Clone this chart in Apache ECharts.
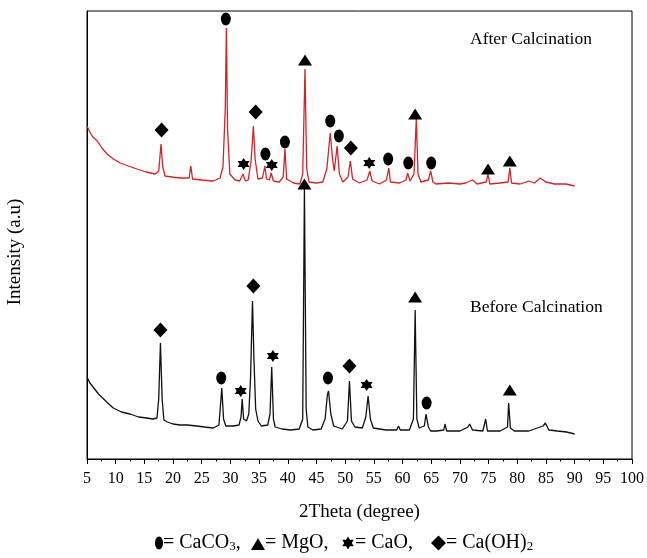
<!DOCTYPE html>
<html>
<head>
<meta charset="utf-8">
<script src="https://cdn.jsdelivr.net/npm/echarts@6/dist/echarts.min.js"></script>
<style>
html,body{margin:0;padding:0;background:#fff;}
#xrd{width:647px;height:558px;}
</style>
</head>
<body>
<div id="xrd"></div>
<script>
//before calcination (black), [2theta, intensity a.u.]
var before_xrd = [
 [5.0,82],[5.5,76],[6.2,71],[7.0,65],[7.9,60],[8.8,55],[9.6,51],[11.0,47],[12.5,45],[14.0,42],[15.4,41],[16.5,40],
 [17.2,41],[17.5,60],[17.8,116],[18.1,60],[18.4,39],[19.0,37],[20.0,35],[21.2,34],[22.5,34],[24.1,33],[25.5,32],
 [27.0,31],[28.0,34],[28.5,71],[28.8,40],[29.2,33],[30.5,33],[31.5,34],[31.85,42],[32.05,60],[32.3,40],[32.8,38],
 [33.2,45],[33.5,80],[33.85,158],[34.1,100],[34.4,50],[34.8,38],[35.4,33],[36.5,34],[36.9,45],[37.2,92],[37.5,40],
 [37.8,32],[39.0,30],[40.5,29],[42.0,30],[42.6,40],[42.9,272],[43.2,50],[43.5,32],[44.4,29],[45.8,30],[46.5,40],
 [46.9,64],[47.1,68],[47.5,45],[48.0,33],[49.5,30],[50.4,38],[50.75,78],[51.1,38],[51.7,32],[53.0,31],[53.6,42],
 [54.0,63],[54.4,40],[54.9,31],[57.1,29],[59.0,29],[59.3,33],[59.6,29],[61.2,29],[61.9,40],[62.2,149],[62.5,40],
 [62.9,31],[63.8,33],[64.1,45],[64.5,32],[64.9,28],[66.0,28],[67.2,29],[67.4,35],[67.7,28],[70.0,28],[71.4,32],
 [71.7,35],[72.2,29],[74.0,28],[74.5,40],[74.8,28],[77.0,28],[78.3,32],[78.5,56],[78.8,31],[79.5,28],[82.0,28],
 [84.5,33],[84.9,36],[85.5,29],[87.0,28],[88.6,27],[90.0,25]
];

//after calcination (red), shifted up
var after_xrd = [
 [5.0,333],[5.5,327],[6.0,322],[6.8,318],[7.6,311],[8.5,305],[9.6,300],[10.8,296],[12.2,293],[13.7,290],[15.3,287],
 [16.9,285],[17.5,288],[17.9,315],[18.2,292],[18.6,283],[19.8,282],[21.2,281],[22.8,281],[23.1,293],[23.4,280],
 [25.0,279],[27.0,278],[28.2,281],[28.7,292],[29.1,350],[29.3,431],[29.5,330],[29.9,285],[30.8,279],[31.6,278],
 [32.2,285],[32.6,278],[33.1,279],[33.6,298],[34.0,333],[34.3,300],[34.8,280],[35.6,281],[36.0,293],[36.3,280],
 [36.8,279],[37.1,286],[37.5,278],[38.5,277],[39.2,282],[39.5,310],[39.8,280],[41.0,276],[42.1,275],[42.6,285],
 [43.0,390],[43.3,290],[43.7,277],[45.0,276],[46.1,277],[46.8,290],[47.4,326],[47.8,300],[48.1,288],[48.6,313],
 [49.0,285],[49.6,277],[50.5,282],[50.9,298],[51.3,280],[52.5,276],[53.8,279],[54.3,288],[54.7,278],[56.0,275],
 [57.2,279],[57.6,291],[57.9,277],[59.5,276],[60.6,279],[60.9,286],[61.3,278],[62.0,285],[62.4,340],[62.7,285],
 [63.2,277],[64.5,279],[64.9,288],[65.3,277],[65.8,275],[68.0,276],[70.0,275],[71.0,276],[72.2,279],[73.0,275],
 [74.6,277],[74.9,285],[75.2,275],[77.0,276],[78.4,277],[78.7,291],[79.0,276],[80.5,275],[82.0,278],[83.0,276],
 [84.0,281],[85.0,277],[86.5,275],[88.5,275],[90.0,273]
];

//phase marks above the peaks
var caco3_marks = [[29.2,440],[36.1,305],[39.5,317],[47.4,338],[48.9,323],[57.5,300],[61.0,296],[65.0,296],[28.4,81],[47.0,81],[64.2,56]];
var mgo_marks   = [[43.0,399],[62.2,345],[74.9,290],[78.7,298],[42.9,275],[62.2,162],[78.7,69]];
var cao_marks   = [[32.3,295],[37.2,294],[54.2,296],[31.8,68],[37.4,103],[53.75,74]];
var caoh_marks  = [[18.0,329],[34.4,347],[51.0,311],[17.8,129],[34.0,173],[50.75,93]];

var star6 = 'path://M10 0L12.89 5L18.66 5L15.77 10L18.66 15L12.89 15L10 20L7.11 15L1.34 15L4.23 10L1.34 5L7.11 5Z';
var serif = 'Liberation Serif';
var legFont = '20px "Liberation Serif"';
var subRich = {sub:{fontFamily:serif,fontSize:13,verticalAlign:'bottom',lineHeight:16}};

var myChart = echarts.init(document.getElementById('xrd'));
var option = {
  animation:false,
  backgroundColor:'#fff',
  grid:{
       left:87,
       right:13,
       top:11,
       bottom:99,
       show:true,
       borderColor:'#000',
       borderWidth:1
  },
  xAxis:{
         type:'value',
         min:5,
         max:100,
         interval:5,
         name:'2Theta (degree)',
         nameLocation:'middle',
         nameGap:44,
         nameTextStyle:{color:'#000',fontFamily:serif,fontSize:19},
         axisLine:{lineStyle:{color:'#000',width:1}},
         axisTick:{show:true,inside:false,length:5,lineStyle:{color:'#000'}},
         minorTick:{show:true,splitNumber:2,length:2.5,lineStyle:{color:'#000'}},
         splitLine:{show:false},
         axisLabel:{color:'#000',fontFamily:serif,fontSize:16,margin:12}
  },
  yAxis:{
         type:'value',
         min:0,
         max:448,
         axisLine:{show:true,lineStyle:{color:'#000',width:1}},
         axisTick:{show:false},
         axisLabel:{show:false},
         splitLine:{show:false}
  },
  graphic:[
    {type:'text',left:470,top:30,style:{text:'After Calcination',fill:'#000',font:'17.5px "Liberation Serif"'}},
    {type:'text',left:470,top:298,style:{text:'Before Calcination',fill:'#000',font:'17.5px "Liberation Serif"'}},
    {type:'text',x:15,y:252,rotation:Math.PI/2,
     style:{text:'Intensity (a.u)',fill:'#000',font:'19px "Liberation Serif"',align:'center',verticalAlign:'middle'}},
    //legend line at the bottom
    {type:'ellipse',shape:{cx:159,cy:543,rx:4,ry:6.5},style:{fill:'#000'}},
    {type:'text',x:163,y:543,style:{text:'= CaCO{sub|3},',fill:'#000',font:legFont,verticalAlign:'middle',rich:subRich}},
    {type:'polygon',shape:{points:[[251,550],[265,550],[258,538]]},style:{fill:'#000'}},
    {type:'text',x:265,y:543,style:{text:'= MgO,',fill:'#000',font:legFont,verticalAlign:'middle'}},
    {type:'polygon',shape:{points:[[348,536.4],[349.9,539.7],[353.72,539.7],[351.81,543],[353.72,546.3],[349.9,546.3],
                                   [348,549.6],[346.1,546.3],[342.28,546.3],[344.19,543],[342.28,539.7],[346.1,539.7]]},
     style:{fill:'#000'}},
    {type:'text',x:355,y:543,style:{text:'= CaO,',fill:'#000',font:legFont,verticalAlign:'middle'}},
    {type:'polygon',shape:{points:[[438.5,535.5],[446,543],[438.5,550.5],[431,543]]},style:{fill:'#000'}},
    {type:'text',x:446,y:543,style:{text:'= Ca(OH){sub|2}',fill:'#000',font:legFont,verticalAlign:'middle',rich:subRich}}
  ],
  series:[
  {
     name:'After Calcination',
     type:'line',
     data:after_xrd,
     symbol:'none',
     lineStyle:{color:'#d42323',width:1.3},
     z:2
  },
  {
     name:'Before Calcination',
     type:'line',
     data:before_xrd,
     symbol:'none',
     lineStyle:{color:'#111',width:1.3},
     z:2
  },
  {
     name:'CaCO3',
     type:'scatter',
     data:caco3_marks,
     symbol:'circle',
     symbolSize:[10,13],
     itemStyle:{color:'#000',opacity:1},
     z:5
  },
  {
     name:'MgO',
     type:'scatter',
     data:mgo_marks,
     symbol:'triangle',
     symbolSize:[14,11],
     itemStyle:{color:'#000',opacity:1},
     z:5
  },
  {
     name:'CaO',
     type:'scatter',
     data:cao_marks,
     symbol:star6,
     symbolSize:[12,12],
     itemStyle:{color:'#000',opacity:1},
     z:5
  },
  {
     name:'Ca(OH)2',
     type:'scatter',
     data:caoh_marks,
     symbol:'diamond',
     symbolSize:[14,15],
     itemStyle:{color:'#000',opacity:1},
     z:5
  }
 ]
};
myChart.setOption(option);
</script>
</body>
</html>
